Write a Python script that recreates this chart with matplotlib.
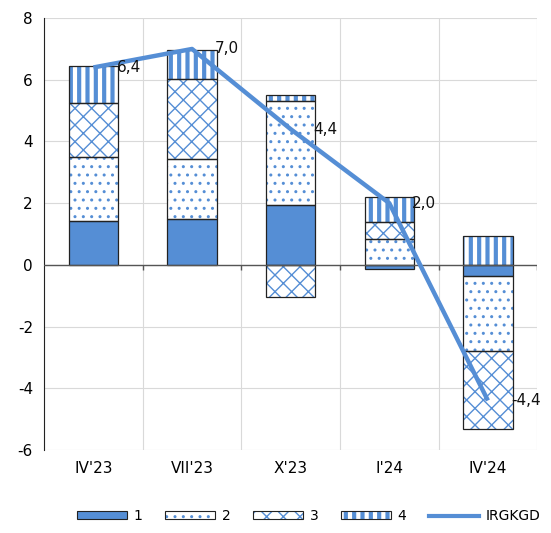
import numpy as np
import matplotlib
matplotlib.use("Agg")
import matplotlib.pyplot as plt
from matplotlib.patches import Patch
from matplotlib.lines import Line2D
from matplotlib.legend_handler import HandlerTuple, HandlerPatch

categories = ["IV'23", "VII'23", "X'23", "I'24", "IV'24"]
s1 = [1.43, 1.48, 1.95, -0.13, -0.37]
s2 = [2.07, 1.95, 3.35, 0.85, -2.43]
s3 = [1.75, 2.60, -1.05, 0.55, -2.53]
s4 = [1.20, 0.94, 0.20, 0.80, 0.93]
irgkgd = [6.4, 7.0, 4.4, 2.0, -4.4]
irgkgd_labels = ["6,4", "7,0", "4,4", "2,0", "-4,4"]

blue = "#558ED5"
plt.rcParams["font.family"] = "DejaVu Sans"
plt.rcParams["axes.unicode_minus"] = False


def set_hlw(p, lw):
    if hasattr(p, "set_hatch_linewidth"):
        p.set_hatch_linewidth(lw)


class HatchHandler(HandlerPatch):
    # legend handle whose hatch keeps its own line width
    def __init__(self, lw, **kw):
        super().__init__(**kw)
        self.lw = lw

    def create_artists(self, *args, **kw):
        with plt.rc_context({"hatch.linewidth": self.lw}):
            arts = super().create_artists(*args, **kw)
        for a in arts:
            set_hlw(a, self.lw)
        return arts


fig = plt.figure(figsize=(5.51, 5.33), dpi=100)
ax = fig.add_axes([0.08, 0.156, 0.895, 0.81])

x = np.arange(len(categories))
w = 0.5
series = [s1, s2, s3, s4]
styles = [
    dict(color=blue, hatch=None, lw=1.0),
    dict(color="white", hatch="..", lw=1.0),
    dict(color="white", hatch="xx", lw=1.0),
    dict(color="white", hatch="||", lw=3.0),
]

pos_base = np.zeros(len(x))
neg_base = np.zeros(len(x))
for vals, st in zip(series, styles):
    vals = np.array(vals)
    base = np.where(vals >= 0, pos_base, neg_base)
    with plt.rc_context({"hatch.linewidth": st["lw"]}):
        bars = ax.bar(x, vals, w, bottom=base, color=st["color"],
                      hatch=st["hatch"], edgecolor=blue, linewidth=0, zorder=2)
        for b in bars:
            set_hlw(b, st["lw"])
    ax.bar(x, vals, w, bottom=base, fill=False, edgecolor="#222222",
           linewidth=0.9, zorder=3)
    pos_base = np.where(vals >= 0, pos_base + vals, pos_base)
    neg_base = np.where(vals < 0, neg_base + vals, neg_base)

ax.plot(x, irgkgd, color=blue, lw=3.2, zorder=4, solid_capstyle="butt")
for xi, yi, lab in zip(x, irgkgd, irgkgd_labels):
    ax.annotate(lab, (xi, yi), xytext=(23, 0), textcoords="offset pixels",
                ha="left", va="center", fontsize=11, color="#111111", zorder=5)

ax.set_xlim(-0.5, len(x) - 0.5)
ax.set_ylim(-6, 8)
ax.set_yticks(np.arange(-6, 9, 2))
ax.set_xticks(x)
ax.set_xticklabels(categories)
ax.set_xticks(np.arange(-0.5, len(x)), minor=True)
ax.tick_params(axis="x", which="both", length=0, pad=8, labelsize=11)
ax.tick_params(axis="y", length=0, pad=8, labelsize=11)
ax.grid(axis="y", color="#d9d9d9", lw=0.8, zorder=0)
ax.grid(axis="x", which="minor", color="#d9d9d9", lw=0.8, zorder=0)
ax.axhline(0, color="#555555", lw=1.0, zorder=3)
ax.vlines(np.arange(0.5, len(x) + 0.5), -0.18, 0, color="#555555", lw=1.0, zorder=3)
for sp in ["top", "right", "bottom"]:
    ax.spines[sp].set_visible(False)
ax.spines["left"].set_color("#222222")

handles = []
hmap = {tuple: HandlerTuple(ndivide=1, pad=0)}
for st in styles:
    fillp = Patch(facecolor=st["color"], edgecolor=blue, hatch=st["hatch"], lw=0)
    hmap[fillp] = HatchHandler(st["lw"])
    edgep = Patch(facecolor="none", edgecolor="#222222", lw=0.8)
    handles.append((fillp, edgep))
handles.append(Line2D([], [], color=blue, lw=3))

fig.legend(handles, ["1", "2", "3", "4", "IRGKGD"], loc="lower center",
           bbox_to_anchor=(0.56, -0.005), ncol=5, frameon=False, fontsize=10,
           handlelength=3.6, handleheight=0.5, columnspacing=1.6, handletextpad=0.5,
           handler_map=hmap)

fig.savefig("out.png", dpi=100)
